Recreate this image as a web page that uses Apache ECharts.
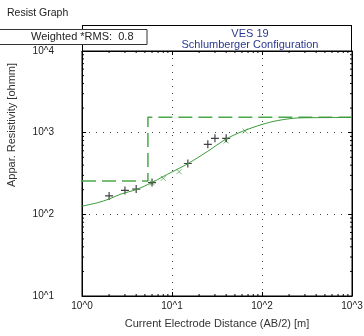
<!DOCTYPE html>
<html>
<head>
<meta charset="utf-8">
<script src="https://cdn.jsdelivr.net/npm/echarts@6/dist/echarts.min.js"></script>
<style>
  html, body { margin: 0; padding: 0; background: #fff; }
  #chart { width: 364px; height: 336px; }
</style>
</head>
<body>
<div id="chart"></div>
<script>
// observed apparent resistivity (+)
const obsX = [2, 3, 4, 6, 15, 25, 30, 40];
const obsY = [168, 196, 204, 245, 419, 720, 853, 853];

// masked / calculated points (x)
const maskX = [6, 8, 12, 40, 65];
const maskY = [243, 276, 333, 791, 1047];

// model response curve
const curveX = [1, 1.5, 2, 2.7, 4, 6, 8, 10, 15, 25, 40, 60, 100, 150, 250, 400, 1000];
const curveY = [126, 139, 154, 177, 201, 245, 291, 330, 417, 593, 836, 1033, 1259, 1409, 1514, 1527, 1535];

// layered model (dashed step)
const modelX = [1, 5.4, 5.4, 1000];
const modelY = [256, 256, 1540, 1540];

// minor tick positions
const minorX = [2, 3, 4, 5, 6, 7, 8, 9, 20, 30, 40, 50, 60, 70, 80, 90, 200, 300, 400, 500, 600, 700, 800, 900];
const minorY = [20, 30, 40, 50, 60, 70, 80, 90, 200, 300, 400, 500, 600, 700, 800, 900, 2000, 3000, 4000, 5000, 6000, 7000, 8000, 9000];

const zip = (a, b) => a.map((v, i) => [v, b[i]]);

const font = "Liberation Sans";
const green = "#3c9a3c";
const plusPath = "path://M0,5L10,5M5,0L5,10";
const crossPath = "path://M0,0L10,10M10,0L0,10";

const chart = echarts.init(document.getElementById("chart"));

const logLabel = (v) => "10^" + Math.round(Math.log10(v));

const option = {
  backgroundColor: "#fff",
  animation: false,
  grid: {
    left: 82, top: 51, width: 270, height: 245,
    show: true, borderColor: "#000", borderWidth: 1,
    outerBoundsMode: "none",
  },
  xAxis: [
    {
      type: "log", min: 1, max: 1000, logBase: 10,
      axisLine: { lineStyle: { color: "#000" } },
      axisTick: { inside: true, length: 4, lineStyle: { color: "#000" } },
      axisLabel: { formatter: logLabel, color: "#222", fontFamily: font, fontSize: 10, margin: 5 },
      splitLine: { show: true, lineStyle: { color: "#444", type: [1, 6] } },
      name: "Current Electrode Distance (AB/2) [m]",
      nameLocation: "middle", nameGap: 22,
      nameTextStyle: { color: "#333", fontFamily: font, fontSize: 11 },
    },
    {
      type: "log", min: 1, max: 1000, logBase: 10, position: "top",
      axisLine: { lineStyle: { color: "#000" } },
      axisTick: { inside: true, length: 4, lineStyle: { color: "#000" } },
      axisLabel: { show: false },
      splitLine: { show: false },
    },
  ],
  yAxis: [
    {
      type: "log", min: 10, max: 10000, logBase: 10,
      axisLine: { lineStyle: { color: "#000" } },
      axisTick: { inside: true, length: 4, lineStyle: { color: "#000" } },
      axisLabel: { formatter: logLabel, color: "#222", fontFamily: font, fontSize: 10, margin: 28 },
      splitLine: { show: true, lineStyle: { color: "#444", type: [1, 6] } },
    },
    {
      type: "log", min: 10, max: 10000, logBase: 10, position: "right",
      axisLine: { lineStyle: { color: "#000" } },
      axisTick: { inside: true, length: 4, lineStyle: { color: "#000" } },
      axisLabel: { show: false },
      splitLine: { show: false },
    },
  ],
  graphic: [
    { type: "text", left: 7, top: 8, style: { text: "Resist Graph", fill: "#222", font: "10.5px " + font } },
    // VES title box
    { type: "line", shape: { x1: 82, y1: 25.5, x2: 352, y2: 25.5 }, style: { stroke: "#000", lineWidth: 1 } },
    { type: "line", shape: { x1: 82.5, y1: 25, x2: 82.5, y2: 51 }, style: { stroke: "#000", lineWidth: 1 } },
    { type: "line", shape: { x1: 351.5, y1: 25, x2: 351.5, y2: 51 }, style: { stroke: "#000", lineWidth: 1 } },
    { type: "text", x: 250, y: 28, style: { text: "VES 19", fill: "#2b3990", font: "11px " + font, align: "center" } },
    { type: "text", x: 250, y: 39.5, style: { text: "Schlumberger Configuration", fill: "#2b3990", font: "11px " + font, align: "center" } },
    {
      type: "text", x: 12, y: 125, rotation: Math.PI / 2,
      style: { text: "Appar. Resistivity [ohmm]", fill: "#333", font: "11px " + font, align: "center", verticalAlign: "middle" },
    },
    // RMS box
    {
      type: "rect", z: 100, shape: { x: -1, y: 29.5, width: 148, height: 15 },
      style: { fill: "#fff", stroke: "#333", lineWidth: 1 },
    },
    { type: "text", z: 101, x: 31, y: 31.5, style: { text: "Weighted *RMS:  0.8", fill: "#222", font: "11px " + font } },
  ],
  series: [
    {
      type: "custom",
      silent: true,
      data: minorX.map((v) => [v]),
      renderItem: (params, api) => {
        const b = api.coord([api.value(0), 10]);
        const t = api.coord([api.value(0), 10000]);
        return {
          type: "group",
          children: [
            { type: "line", shape: { x1: b[0], y1: b[1], x2: b[0], y2: b[1] - 2 }, style: { stroke: "#000", lineWidth: 1 } },
            { type: "line", shape: { x1: t[0], y1: t[1], x2: t[0], y2: t[1] + 2 }, style: { stroke: "#000", lineWidth: 1 } },
          ],
        };
      },
    },
    {
      type: "custom",
      silent: true,
      data: minorY.map((v) => [1, v]),
      renderItem: (params, api) => {
        const l = api.coord([1, api.value(1)]);
        const r = api.coord([1000, api.value(1)]);
        return {
          type: "group",
          children: [
            { type: "line", shape: { x1: l[0], y1: l[1], x2: l[0] + 2, y2: l[1] }, style: { stroke: "#000", lineWidth: 1 } },
            { type: "line", shape: { x1: r[0], y1: r[1], x2: r[0] - 2, y2: r[1] }, style: { stroke: "#000", lineWidth: 1 } },
          ],
        };
      },
    },
    {
      name: "Model",
      type: "line",
      data: zip(modelX, modelY),
      symbol: "none",
      lineStyle: { color: "#4aa84a", width: 1.5, type: [14, 6] },
    },
    {
      name: "Response",
      type: "line",
      data: zip(curveX, curveY),
      smooth: 0.3,
      symbol: "none",
      lineStyle: { color: green, width: 1 },
    },
    {
      name: "Masked",
      type: "scatter",
      data: zip(maskX, maskY),
      symbol: crossPath,
      symbolSize: 5,
      itemStyle: { color: "rgba(0,0,0,0)", borderColor: "#5aa85a", borderWidth: 1 },
    },
    {
      name: "Observed",
      type: "scatter",
      data: zip(obsX, obsY),
      symbol: plusPath,
      symbolSize: 8,
      itemStyle: { color: "rgba(0,0,0,0)", borderColor: "#111", borderWidth: 1.2 },
    },
  ],
};

chart.setOption(option);
</script>
</body>
</html>
